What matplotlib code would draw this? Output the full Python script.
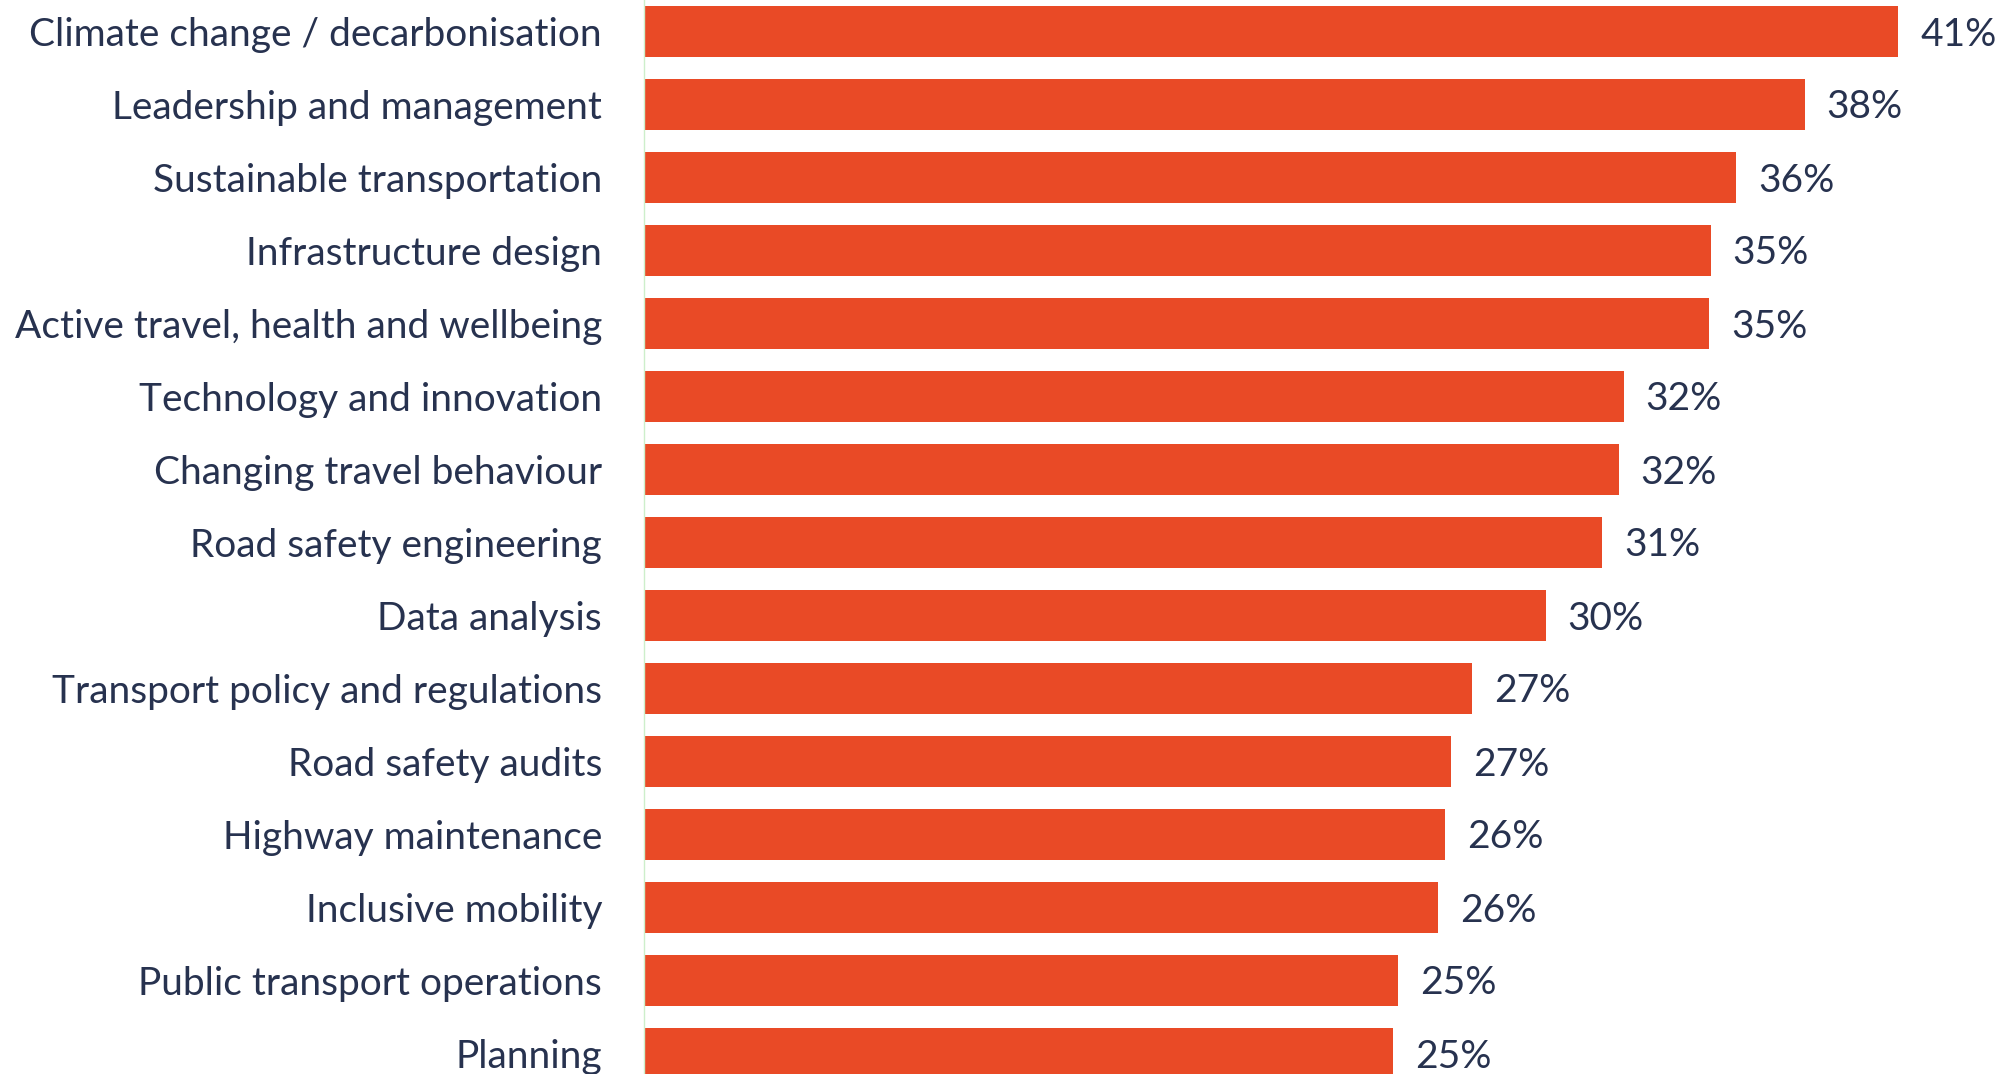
import matplotlib
matplotlib.use("Agg")
import matplotlib.pyplot as plt


# categories, top to bottom
topics = [
    "Climate change / decarbonisation",
    "Leadership and management",
    "Sustainable transportation",
    "Infrastructure design",
    "Active travel, health and wellbeing",
    "Technology and innovation",
    "Changing travel behaviour",
    "Road safety engineering",
    "Data analysis",
    "Transport policy and regulations",
    "Road safety audits",
    "Highway maintenance",
    "Inclusive mobility",
    "Public transport operations",
    "Planning",
]

# bar lengths and the printed, rounded labels
share = [41.0, 37.95, 35.7, 34.87, 34.83, 32.03, 31.87, 31.32,
         29.48, 27.06, 26.4, 26.2, 25.97, 24.65, 24.48]
share_labels = ["41%", "38%", "36%", "35%", "35%", "32%", "32%", "31%",
                "30%", "27%", "27%", "26%", "26%", "25%", "25%"]

bar_color = "#E94A26"
text_color = "#27324F"

plt.rcParams["font.family"] = ["Lato", "DejaVu Sans"]

W, H = 2000, 1074
fig = plt.figure(figsize=(W / 100, H / 100), dpi=100)
x0 = 644
ax = fig.add_axes([x0 / W, 0, 1 - x0 / W, 1])

px_per_pct = 1254 / 41.0
row = 73.0
ypos = list(range(len(topics)))

ax.barh(ypos, share, height=51 / row, color=bar_color)

ax.set_xlim(0, (W - x0) / px_per_pct)
ax.set_ylim(len(topics) - 1 + (H - 1053.5) / row, -31.5 / row)

ax.set_yticks(ypos)
ax.set_yticklabels(topics, fontsize=28, color=text_color)
ax.tick_params(axis="y", length=0, pad=42 * 0.72)
ax.set_xticks([])

for side in ["top", "right", "bottom"]:
    ax.spines[side].set_visible(False)
ax.spines["left"].set_color("#CDEFCB")
ax.spines["left"].set_linewidth(1.0)

# value labels, a little right of each bar end
for y, v, lab in zip(ypos, share, share_labels):
    ax.annotate(lab, (v, y), xytext=(22 * 0.72, -3 * 0.72),
                textcoords="offset points", ha="left", va="center",
                fontsize=28, color=text_color, annotation_clip=False)

fig.savefig("out.png", dpi=100, facecolor="white")
